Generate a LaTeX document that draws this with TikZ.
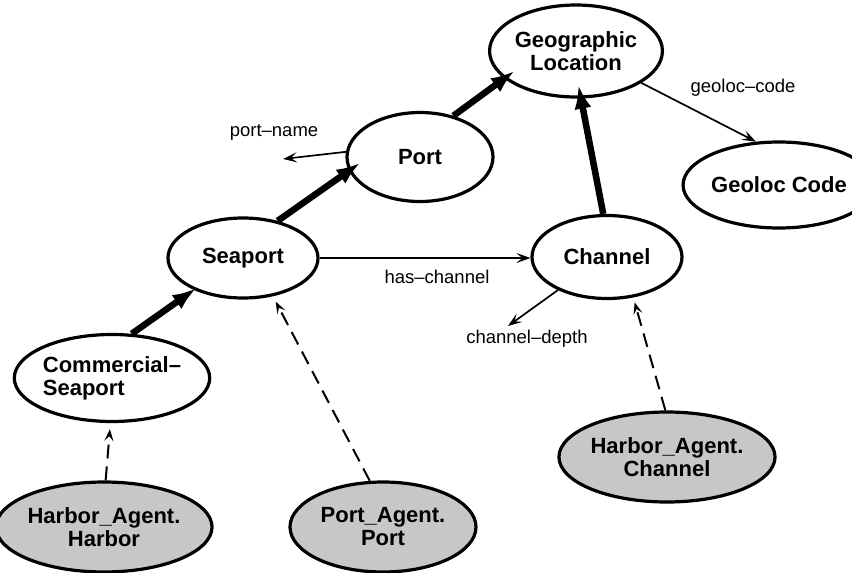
\documentclass[tikz,border=0pt]{standalone}
\usepackage{fontspec}
\setmainfont{Liberation Sans}
\usetikzlibrary{shapes.geometric,arrows.meta}
\begin{document}
\begin{tikzpicture}[x=1pt,y=-1pt,
  concept/.style={ellipse, draw, line width=3.2pt, inner sep=0pt,
    font=\fontsize{22}{23}\selectfont\bfseries, align=center},
  agent/.style={concept, fill=black!22},
  lbl/.style={font=\fontsize{18.5}{21}\selectfont, inner sep=0pt},
  isa/.style={line width=6.5pt, -{Latex[length=24pt,width=17pt]}},
  rel/.style={line width=1.7pt, -{Stealth[length=14pt,width=10pt,inset=6pt]}},
  inst/.style={line width=2pt, dash pattern=on 14pt off 8pt,
    -{Stealth[length=12pt,width=9pt,inset=5pt]}}
]
\useasboundingbox (0,0) rectangle (852,573);

% concept nodes
\node[concept, minimum width=152pt, minimum height=92pt] (geo) at (576,51) {Geographic\\Location};
\node[concept, minimum width=146pt, minimum height=89pt] (port) at (420,157) {Port};
\node[concept, minimum width=150pt, minimum height=80pt] (seaport) at (243,258) {Seaport};
\node[concept, minimum width=150pt, minimum height=83pt] (channel) at (607,257) {Channel};
\node[concept, minimum width=145pt, minimum height=86pt] (gcode) at (779,185) {Geoloc Code};
\node[concept, minimum width=190pt, minimum height=87pt, align=left] (comm) at (112,378) {Commercial--\\Seaport};

% agent nodes
\node[agent, minimum width=192pt, minimum height=90pt] (hah) at (104,527) {Harbor\_Agent.\\Harbor};
\node[agent, minimum width=186pt, minimum height=90pt] (pap) at (383,527) {Port\_Agent.\\Port};
\node[agent, minimum width=189pt, minimum height=90pt] (hac) at (667,457) {Harbor\_Agent.\\Channel};

% labels
\node[lbl] (pnl) at (274,132) {port--name};
\node[lbl] (gcl) at (743,88) {geoloc--code};
\node[lbl] (hcl) at (437,277) {has--channel};
\node[lbl] (cdl) at (527,339) {channel--depth};
\coordinate (pn) at (283,159);
\coordinate (cd) at (508,326);

% is-a arrows
\draw[isa, shorten >=-3pt] (comm.66) -- (seaport.213);
\draw[isa, shorten >=-14pt] (seaport.47) -- (port.191);
\draw[isa, shorten >=-13pt] (port.51) -- (geo.201);
\draw[isa, shorten >=-14pt] (channel.95) -- (geo.276);

% relation arrows
\draw[rel] (geo.334) -- (gcode.118);
\draw[rel] (seaport.east) -- (seaport.east -| channel.west);
\draw[rel] (port.176) -- (pn);
\draw[rel] (channel.214) -- (cd);

% instance arrows
\draw[inst, shorten >=6pt] (hah.88) -- (comm.268);
\draw[inst, shorten >=6pt] (pap.106) -- (seaport.308);
\draw[inst, shorten >=5pt] (hac.92) -- (channel.303);
\end{tikzpicture}
\end{document}
